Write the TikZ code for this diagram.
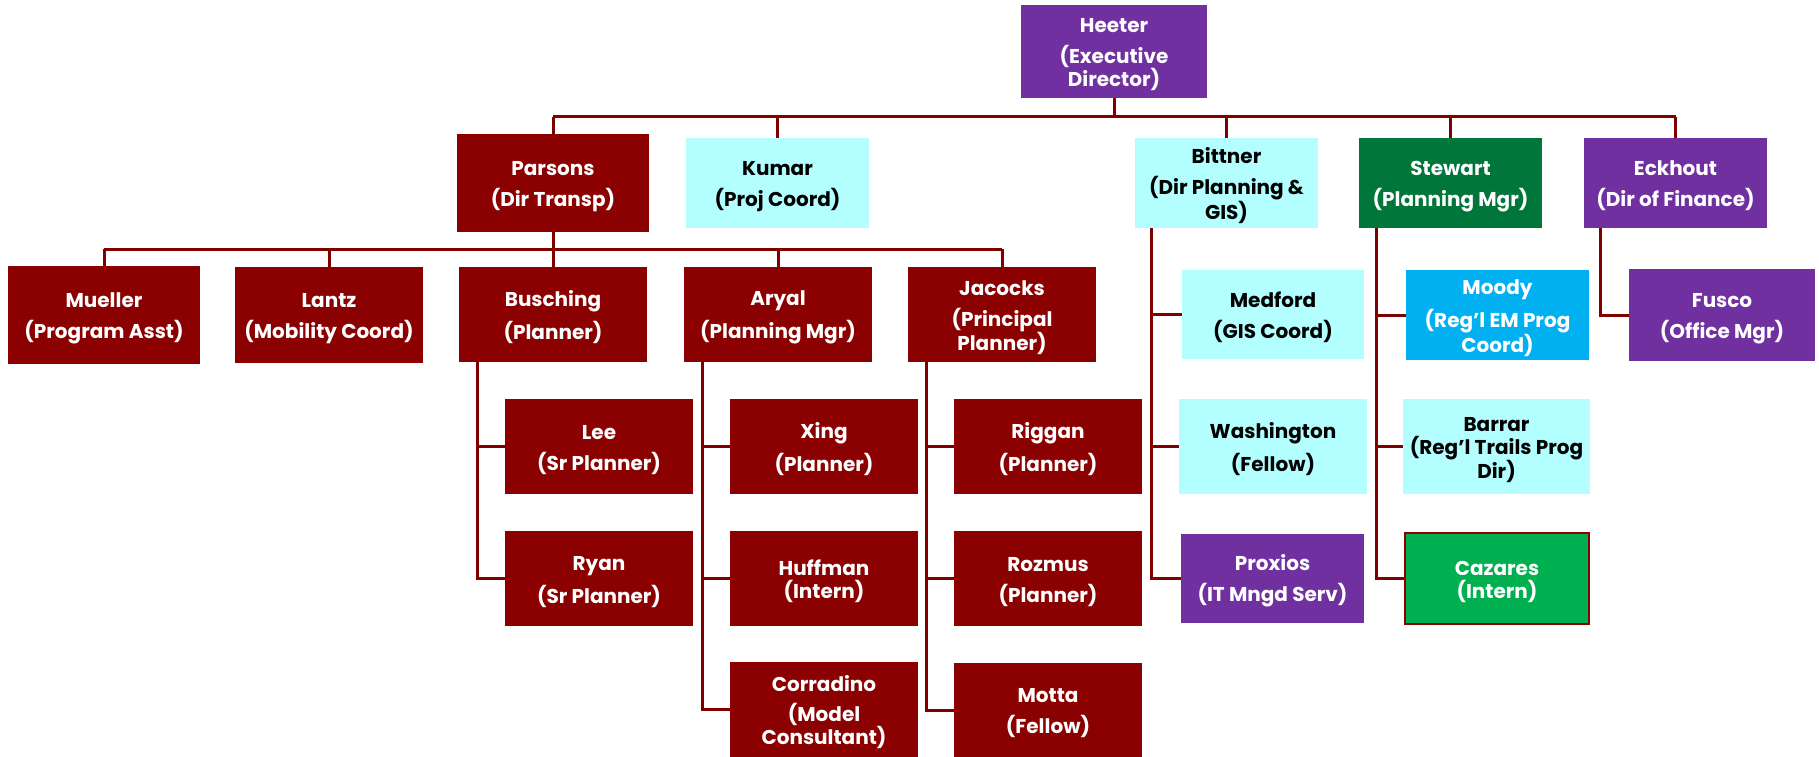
\documentclass[tikz,border=0pt]{standalone}
\usepackage{fontspec}
\setmainfont{Poppins}
\usetikzlibrary{calc}
\definecolor{dred}{HTML}{8B0000}
\definecolor{purp}{HTML}{7030A0}
\definecolor{lcyan}{HTML}{B3FFFF}
\definecolor{dgreen}{HTML}{00763A}
\definecolor{lgreen}{HTML}{00B050}
\definecolor{sky}{HTML}{00B0F0}
\definecolor{lineC}{HTML}{800000}
\newcommand{\tg}{{}\\[-2pt]}
\tikzset{
  box/.style={rectangle, inner sep=0pt, align=center,
    font=\bfseries\fontsize{20}{23}\selectfont},
  sz/.style 2 args={minimum width=#1, minimum height=#2},
  redbox/.style={box, fill=dred, text=white},
  purbox/.style={box, fill=purp, text=white},
  cyanbox/.style={box, fill=lcyan, text=black},
  greenbox/.style={box, fill=dgreen, text=white},
  lgreenbox/.style={box, fill=lgreen, text=white, draw=dred, line width=2pt},
  skybox/.style={box, fill=sky, text=white},
  conn/.style={draw=lineC, line width=3pt},
}
\begin{document}
\begin{tikzpicture}[x=1pt,y=-1pt]
\useasboundingbox (0,0) rectangle (1819,757);
\fill[white] (0,0) rectangle (1819,757);

% level 0
\node[purbox, sz={186}{93}] (heeter) at (1114,51.5) {\tg Heeter\\[8pt](Executive\\Director)};

% level 1
\node[redbox, sz={192}{98}] (parsons) at (553,183) {\tg Parsons\\[8pt](Dir Transp)};
\node[cyanbox, sz={183}{90}] (kumar) at (777.5,183) {\tg Kumar\\[8pt](Proj Coord)};
\node[cyanbox, sz={183}{90}] (bittner) at (1226.5,183) {\tg Bittner\\[8pt](Dir Planning \&\\GIS)};
\node[greenbox, sz={183}{90}] (stewart) at (1450.5,183) {\tg Stewart\\[8pt](Planning Mgr)};
\node[purbox, sz={183}{90}] (eckhout) at (1675.5,183) {\tg Eckhout\\[8pt](Dir of Finance)};

% level 2 under Parsons
\node[redbox, sz={192}{98}] (mueller) at (104,315) {\tg Mueller\\[8pt](Program Asst)};
\node[redbox, sz={188}{96}] (lantz) at (329,315) {\tg Lantz\\[8pt](Mobility Coord)};
\node[redbox, sz={188}{95}] (busching) at (553,314.5) {\tg Busching\\[8pt](Planner)};
\node[redbox, sz={188}{95}] (aryal) at (778,314.5) {\tg Aryal\\[8pt](Planning Mgr)};
\node[redbox, sz={188}{95}] (jacocks) at (1002,314.5) {\tg Jacocks\\[8pt](Principal\\Planner)};

% Busching children
\node[redbox, sz={188}{95}] (lee) at (599,446.5) {\tg Lee\\[8pt](Sr Planner)};
\node[redbox, sz={188}{95}] (ryan) at (599,578.5) {\tg Ryan\\[8pt](Sr Planner)};

% Aryal children
\node[redbox, sz={188}{95}] (xing) at (824,446.5) {\tg Xing\\[8pt](Planner)};
\node[redbox, sz={188}{95}] (huffman) at (824,578.5) {\tg Huffman\\(Intern)};
\node[redbox, sz={188}{95}] (corradino) at (824,709.5) {\tg Corradino\\[7pt](Model\\Consultant)};

% Jacocks children
\node[redbox, sz={188}{95}] (riggan) at (1048,446.5) {\tg Riggan\\[8pt](Planner)};
\node[redbox, sz={188}{95}] (rozmus) at (1048,578.5) {\tg Rozmus\\[8pt](Planner)};
\node[redbox, sz={188}{94}] (motta) at (1048,710) {\tg Motta\\[8pt](Fellow)};

% Bittner children
\node[cyanbox, sz={182}{89}] (medford) at (1273,314.5) {\tg Medford\\[8pt](GIS Coord)};
\node[cyanbox, sz={188}{95}] (washington) at (1273,446.5) {\tg Washington\\[8pt](Fellow)};
\node[purbox, sz={183}{89}] (proxios) at (1272.5,578.5) {\tg Proxios\\[8pt](IT Mngd Serv)};

% Stewart children
\node[skybox, sz={183}{90}] (moody) at (1497.5,315) {\tg Moody\\[8pt](Reg’l EM Prog\\Coord)};
\node[cyanbox, sz={187}{95}] (barrar) at (1496.5,446.5) {\tg Barrar\\(Reg’l Trails Prog\\Dir)};
\node[lgreenbox, sz={184}{91}] (cazares) at (1497,578.5) {\tg Cazares\\(Intern)};

% Eckhout child
\node[purbox, sz={186}{92}] (fusco) at (1722,315) {\tg Fusco\\[8pt](Office Mgr)};

% ---- connectors ----
\coordinate (busA) at (1114,117);
\draw[conn] (heeter.south) -- (heeter.south |- busA);
\draw[conn] (parsons.north |- busA) -- (eckhout.north |- busA);
\foreach \n in {parsons,kumar,bittner,stewart,eckhout}
  \draw[conn] (\n.north |- busA) -- (\n.north);

\coordinate (busB) at (553,249);
\draw[conn] (parsons.south) -- (parsons.south |- busB);
\draw[conn] (mueller.north |- busB) -- (jacocks.north |- busB);
\foreach \n in {mueller,lantz,busching,aryal,jacocks}
  \draw[conn] (\n.north |- busB) -- (\n.north);

% Busching tree
\coordinate (bl) at ([xshift=19pt]busching.south west);
\draw[conn] (bl) |- (ryan.west);
\draw[conn] (bl |- lee.west) -- (lee.west);

% Aryal tree
\coordinate (al) at ([xshift=19pt]aryal.south west);
\draw[conn] (al) |- (corradino.west);
\draw[conn] (al |- xing.west) -- (xing.west);
\draw[conn] (al |- huffman.west) -- (huffman.west);

% Jacocks tree
\coordinate (jl) at ([xshift=19pt]jacocks.south west);
\draw[conn] (jl) |- (motta.west);
\draw[conn] (jl |- riggan.west) -- (riggan.west);
\draw[conn] (jl |- rozmus.west) -- (rozmus.west);

% Bittner tree
\coordinate (btl) at ([xshift=17pt]bittner.south west);
\draw[conn] (btl) |- (proxios.west);
\draw[conn] (btl |- medford.west) -- (medford.west);
\draw[conn] (btl |- washington.west) -- (washington.west);

% Stewart tree
\coordinate (sl) at ([xshift=18pt]stewart.south west);
\draw[conn] (sl) |- (cazares.west);
\draw[conn] (sl |- moody.west) -- (moody.west);
\draw[conn] (sl |- barrar.west) -- (barrar.west);

% Eckhout tree
\coordinate (el) at ([xshift=17pt]eckhout.south west);
\draw[conn] (el) |- (fusco.west);
\end{tikzpicture}
\end{document}
